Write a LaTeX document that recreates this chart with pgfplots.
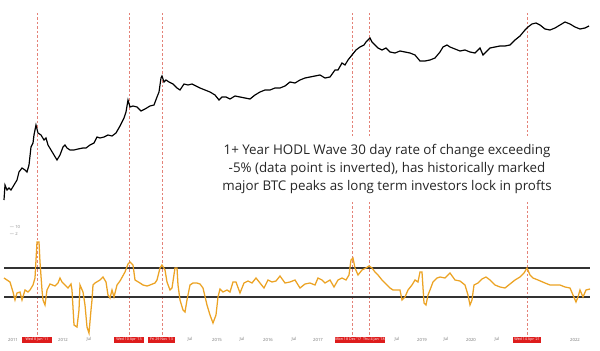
\documentclass[border=0pt]{standalone}
\usepackage{fontspec}
\setmainfont{Open Sans}
\usepackage{pgfplots}
\pgfplotsset{compat=1.18}
\definecolor{hodl}{RGB}{236,163,36}
\definecolor{peakred}{RGB}{222,28,28}
\definecolor{dashred}{RGB}{228,130,120}
\begin{document}
\begin{tikzpicture}
\path[use as bounding box, fill=white] (0,0) rectangle (15cm,8.775cm);
\begin{axis}[at={(0,0)}, anchor=south west, scale only axis,
  width=15cm, height=8.775cm, xmin=0, xmax=600, ymin=0, ymax=351,
  y dir=reverse, hide axis, clip=false]
% peak markers
\addplot[dashred, line width=0.5pt, dash pattern=on 1.6pt off 1.6pt] coordinates {(37,13)(37,337)};
\addplot[dashred, line width=0.5pt, dash pattern=on 1.6pt off 1.6pt] coordinates {(129,13)(129,337)};
\addplot[dashred, line width=0.5pt, dash pattern=on 1.6pt off 1.6pt] coordinates {(162,13)(162,337)};
\addplot[dashred, line width=0.5pt, dash pattern=on 1.6pt off 1.6pt] coordinates {(352,13)(352,337)};
\addplot[dashred, line width=0.5pt, dash pattern=on 1.6pt off 1.6pt] coordinates {(369,13)(369,337)};
\addplot[dashred, line width=0.5pt, dash pattern=on 1.6pt off 1.6pt] coordinates {(527,13)(527,337)};
% BTC price (log, top panel)
\addplot[black, line width=0.85pt] coordinates {
(4,200)(5,185)(7,190)(9,188)(11,190)(14,185)(17,180)(19,172)(22,168)(25,170)(27,172)(29,165)(31,147)(33,143)(34,135)(36,125)(38,133)(41,135)(44,140)(46,138)(48,145)(51,150)(54,155)(57,160)(60,155)(63,147)(65,145)(67,148)(70,150)(74,150)(78,149)(83,148)(86,148)(90,145)(94,143)(97,137)(100,138)(104,137)(108,135)(112,136)(116,133)(120,126)(124,118)(126,112)(128,100)(130,107)(133,106)(137,107)(141,111)(145,109)(150,106)(154,105)(157,97)(159,92)(161,78)(162,76)(164,82)(166,80)(169,82)(173,84)(177,88)(180,90)(184,84)(188,85)(192,84)(196,86)(200,88)(205,90)(210,92)(215,95)(219,100)(222,97)(226,97)(230,99)(235,96)(240,97)(245,98)(250,99)(255,95)(260,92)(265,90)(270,90)(275,88)(280,88)(285,86)(290,82)(295,83)(300,80)(305,78)(310,77)(315,76)(320,75)(325,78)(330,77)(335,70)(338,70)(342,63)(345,65)(348,60)(352,55)(356,50)(360,47)(364,45)(366,42)(368,40)(370,38)(372,42)(375,45)(378,48)(382,50)(386,48)(390,52)(395,53)(400,51)(405,52)(410,53)(415,55)(420,61)(425,61)(430,60)(435,58)(440,52)(443,47)(447,45)(450,47)(455,49)(460,51)(465,50)(470,52)(475,53)(480,48)(483,55)(486,52)(490,48)(495,47)(500,46)(505,46)(510,45)(515,40)(520,36)(525,30)(528,27)(532,24)(536,23)(540,25)(545,29)(550,30)(555,28)(560,25)(565,22)(570,24)(575,27)(580,29)(585,28)(589,26)};
% bands
\addplot[black!80, line width=0.8pt] coordinates {(4,268)(590,268)};
\addplot[black!80, line width=0.8pt] coordinates {(4,297)(590,297)};
% HODL wave rate of change (bottom panel)
\addplot[hodl, line width=0.9pt] coordinates {
(4,278)(7,280)(10,282)(13,292)(15,300)(17,293)(20,292)(22,300)(25,290)(28,292)(30,290)(33,285)(35,278)(36,260)(37,242)(39,242)(40,262)(42,290)(43,300)(45,305)(47,290)(50,284)(55,286)(58,283)(60,278)(62,282)(65,285)(68,288)(71,284)(72,290)(74,325)(77,327)(79,310)(80,285)(83,292)(85,305)(87,327)(89,333)(91,310)(92,300)(93,285)(95,283)(100,280)(103,277)(106,282)(108,295)(110,298)(112,290)(114,297)(117,285)(120,281)(125,272)(128,264)(130,262)(133,265)(135,280)(140,283)(143,285)(147,286)(150,285)(155,283)(157,280)(160,268)(162,265)(165,270)(167,282)(170,290)(172,288)(175,268)(177,268)(178,285)(180,300)(183,310)(185,312)(187,300)(190,285)(193,283)(197,283)(200,284)(203,288)(207,305)(210,315)(213,323)(216,315)(218,297)(220,289)(223,292)(227,290)(230,292)(233,282)(236,282)(240,293)(244,283)(248,281)(252,283)(256,278)(260,283)(264,288)(268,280)(272,282)(276,281)(280,276)(285,283)(290,282)(295,280)(300,288)(305,284)(310,283)(315,285)(318,278)(322,280)(325,283)(330,280)(334,287)(338,280)(342,278)(346,280)(349,275)(351,260)(353,258)(355,268)(358,275)(362,270)(366,268)(369,266)(372,268)(375,272)(378,275)(382,280)(387,285)(390,288)(393,290)(396,290)(400,290)(402,300)(405,297)(408,290)(412,285)(415,280)(418,282)(420,272)(422,272)(424,303)(426,305)(428,295)(430,290)(433,282)(437,278)(440,277)(445,278)(450,273)(455,280)(460,281)(465,285)(468,295)(470,305)(472,300)(474,285)(478,283)(482,279)(486,277)(490,280)(495,285)(500,287)(505,288)(510,284)(515,280)(520,277)(524,273)(527,268)(530,275)(533,278)(538,280)(545,283)(550,285)(555,285)(560,285)(565,287)(570,288)(573,295)(576,302)(578,297)(580,290)(583,297)(586,290)(590,289)};
% annotation
\node[fill=white, align=center, inner xsep=8pt, inner ysep=6pt, font=\fontsize{9.5}{13}\selectfont, text=black!85] at (axis cs:387,169)
 {1+ Year HODL Wave 30 day rate of change exceeding\\-5\% (data point is inverted), has historically marked\\major BTC peaks as long term investors lock in profts};
% small axis labels
\node[text=black!45, font=\fontsize{3}{3.5}\selectfont, anchor=west] at (axis cs:5,227) {— 10};
\node[text=black!45, font=\fontsize{3}{3.5}\selectfont, anchor=west] at (axis cs:5,234) {— 2};
% x labels
\begin{scope}[every node/.style={text=black!55, font=\fontsize{3}{3.5}\selectfont}]
\node at (axis cs:13,339.5) {2011};
\node at (axis cs:63,339.5) {2012};
\node at (axis cs:89,339.5) {Jul};
\node at (axis cs:190,339.5) {Jul};
\node at (axis cs:217,339.5) {2015};
\node at (axis cs:242,339.5) {Jul};
\node at (axis cs:268,339.5) {2016};
\node at (axis cs:294,339.5) {Jul};
\node at (axis cs:318,339.5) {2017};
\node at (axis cs:397,339.5) {Jul};
\node at (axis cs:422,339.5) {2019};
\node at (axis cs:446,339.5) {Jul};
\node at (axis cs:471,339.5) {2020};
\node at (axis cs:497,339.5) {Jul};
\node at (axis cs:575,339.5) {2022};
\end{scope}
\begin{scope}[every node/.style={fill=peakred, text=white, font=\fontsize{2.6}{3}\selectfont, inner sep=0pt, minimum height=0.15cm}]
\node[minimum width=0.75cm] at (axis cs:37,339.5) {Wed 8 Jun '11};
\node[minimum width=0.75cm] at (axis cs:129,339.5) {Wed 10 Apr '13};
\node[minimum width=0.675cm] at (axis cs:161.5,339.5) {Fri 29 Nov '13};
\node[minimum width=1.15cm] at (axis cs:360,339.5) {Mon 18 Dec '17 \ Thu 4 Jan '18};
\node[minimum width=0.7cm] at (axis cs:527,339.5) {Wed 14 Apr '21};
\end{scope}
\end{axis}
\end{tikzpicture}
\end{document}
